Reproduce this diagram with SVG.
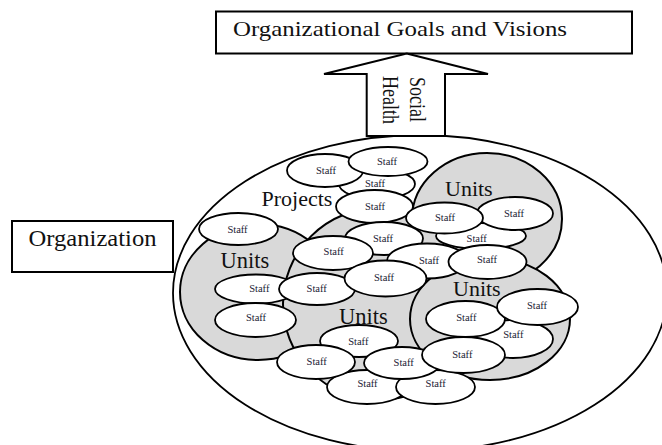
<svg xmlns="http://www.w3.org/2000/svg" width="662" height="445" viewBox="0 0 662 445">
<style>
  .box{fill:#fff;stroke:#000;stroke-width:2}
  .lbl{font-family:"Liberation Serif","Times New Roman",serif;fill:#111}
  .org{fill:#fff;stroke:#000;stroke-width:1.8}
  .units{fill:#d9d9d9;stroke:#000;stroke-width:2}
  .staff ellipse{fill:#fff;stroke:#000;stroke-width:1.8}
  .staff text{font-family:"Liberation Serif","Times New Roman",serif;font-size:10.5px;fill:#1a1a33;text-anchor:middle}
</style>
<rect width="662" height="445" fill="#fff"/>

<g id="goals">
  <rect class="box" x="216" y="11.5" width="416" height="42"/>
  <text class="lbl" x="233" y="36" font-size="22" textLength="334" lengthAdjust="spacingAndGlyphs">Organizational Goals and Visions</text>
</g>

<g id="organization-label">
  <rect class="box" x="12" y="221" width="161" height="51"/>
  <text class="lbl" x="28.5" y="246" font-size="23" textLength="128" lengthAdjust="spacingAndGlyphs">Organization</text>
</g>

<g id="organization">
  <ellipse class="org" cx="420" cy="293" rx="247" ry="158"/>
</g>

<g id="units-left"><ellipse class="units" cx="258" cy="292" rx="78" ry="68"/></g>
<g id="units-center"><circle class="units" cx="379" cy="304" r="96"/></g>
<g id="units-top-right"><ellipse class="units" cx="487" cy="219" rx="75" ry="66"/></g>
<g id="units-bottom-right"><ellipse class="units" cx="490" cy="319" rx="80" ry="61"/></g>

<g id="labels">
  <text class="lbl" x="261.5" y="205.5" font-size="22">Projects</text>
  <text class="lbl" x="220.5" y="267.5" font-size="22.5">Units</text>
  <text class="lbl" x="445" y="196" font-size="22">Units</text>
  <text class="lbl" x="453" y="295.5" font-size="22">Units</text>
  <text class="lbl" x="339" y="324.3" font-size="22.5">Units</text>
</g>

<g id="staff-3" class="staff"><ellipse cx="377" cy="184" rx="38" ry="15"/><text x="375" y="186.5">Staff</text></g>
<g id="staff-1" class="staff"><ellipse cx="325" cy="170.5" rx="38" ry="16.5"/><text x="326" y="173.5">Staff</text></g>
<g id="staff-2" class="staff"><ellipse cx="388" cy="161.5" rx="39.5" ry="14.5"/><text x="387" y="165">Staff</text></g>
<g id="staff-4" class="staff"><ellipse cx="374.5" cy="206.5" rx="38.5" ry="16.5"/><text x="375" y="210">Staff</text></g>
<g id="staff-5" class="staff"><ellipse cx="238.5" cy="229" rx="39.5" ry="16"/><text x="237.5" y="233">Staff</text></g>
<g id="staff-10" class="staff"><ellipse cx="481" cy="236" rx="45" ry="13"/><text x="476.7" y="242">Staff</text></g>
<g id="staff-9" class="staff"><ellipse cx="515" cy="213.5" rx="38" ry="16.5"/><text x="514" y="216.5">Staff</text></g>
<g id="staff-8" class="staff"><ellipse cx="444.5" cy="218" rx="38.5" ry="15.5"/><text x="445" y="221">Staff</text></g>
<g id="staff-6" class="staff"><ellipse cx="384" cy="238.5" rx="39" ry="16.5"/><text x="383" y="242">Staff</text></g>
<g id="staff-11" class="staff"><ellipse cx="427" cy="261" rx="40" ry="17.5"/><text x="429" y="263.5">Staff</text></g>
<g id="staff-7" class="staff"><ellipse cx="333" cy="253" rx="40" ry="17"/><text x="333.7" y="255">Staff</text></g>
<g id="staff-15" class="staff"><ellipse cx="256" cy="289" rx="41" ry="14.5"/><text x="259.3" y="292">Staff</text></g>
<g id="staff-14" class="staff"><ellipse cx="317" cy="289" rx="38" ry="16"/><text x="316.7" y="292">Staff</text></g>
<g id="staff-13" class="staff"><ellipse cx="385.5" cy="278.5" rx="41" ry="18"/><text x="384" y="281">Staff</text></g>
<g id="staff-12" class="staff"><ellipse cx="487.5" cy="262" rx="39" ry="17"/><text x="487" y="263">Staff</text></g>
<g id="staff-16" class="staff"><ellipse cx="255.5" cy="320" rx="40.5" ry="17"/><text x="256" y="321">Staff</text></g>
<g id="staff-17" class="staff"><ellipse cx="359" cy="341" rx="39" ry="16"/><text x="358.3" y="345">Staff</text></g>
<g id="staff-20" class="staff"><ellipse cx="367" cy="387" rx="40" ry="17"/><text x="367.5" y="387">Staff</text></g>
<g id="staff-21" class="staff"><ellipse cx="435.5" cy="387" rx="39.5" ry="17"/><text x="435.7" y="387">Staff</text></g>
<g id="staff-18" class="staff"><ellipse cx="316" cy="362" rx="39" ry="17"/><text x="316.7" y="365">Staff</text></g>
<g id="staff-19" class="staff"><ellipse cx="402" cy="363" rx="38" ry="16"/><text x="403.7" y="366">Staff</text></g>
<g id="staff-25" class="staff"><ellipse cx="513" cy="339" rx="40" ry="19"/><text x="513.3" y="337.5">Staff</text></g>
<g id="staff-23" class="staff"><ellipse cx="465.5" cy="319" rx="39.5" ry="18"/><text x="466.3" y="321">Staff</text></g>
<g id="staff-24" class="staff"><ellipse cx="537.5" cy="307" rx="40.5" ry="18"/><text x="537" y="308.5">Staff</text></g>
<g id="staff-22" class="staff"><ellipse cx="463.5" cy="355" rx="41.5" ry="18"/><text x="462.3" y="358">Staff</text></g>

<g id="connectors">
  <polygon points="406.7,53.5 488,74 445,74 445,136 366.7,136 366.7,74 324,74" fill="#fff" stroke="#000" stroke-width="2" stroke-linejoin="miter"/>
  <text class="lbl" font-size="18" transform="translate(409.5,77) rotate(90) scale(1,1.25)">Social</text>
  <text class="lbl" font-size="18" transform="translate(383,76) rotate(90) scale(1,1.25)">Health</text>
</g>
</svg>
